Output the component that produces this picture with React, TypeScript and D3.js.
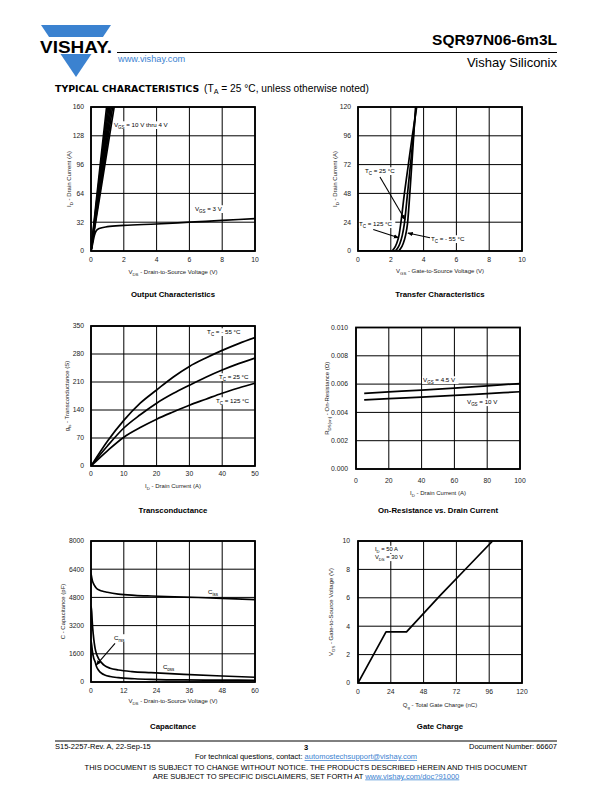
import React from 'react';
import * as d3 from 'd3';

const FONT = '"Liberation Sans", Arial, Helvetica, sans-serif';
const BLUE = '#3b82d0';
type P = [number, number];

// ---------- Output characteristics ----------
const outVgs10: P[] = [[0, 0], [0.3, 52], [0.6, 102], [1.0, 168]];
const outVgs9: P[] = [[0, 0], [0.3, 48], [0.6, 95], [1.1, 172]];
const outVgs8: P[] = [[0, 0], [0.3, 45], [0.6, 89], [1.2, 176]];
const outVgs7: P[] = [[0, 0], [0.3, 42], [0.6, 83], [1.2, 165]];
const outVgs6: P[] = [[0, 0], [0.3, 39], [0.6, 78], [1.3, 168]];
const outVgs5: P[] = [[0, 0], [0.3, 37], [0.6, 73], [1.4, 170]];
const outVgs4: P[] = [[0, 0], [0.3, 34], [0.6, 68], [1.5, 170]];
const outVgs3: P[] = [[0, 0], [0.1, 8], [0.2, 17], [0.3, 22], [0.5, 25], [1, 27], [2, 28.5], [4, 30], [6, 32], [8, 34], [10, 36]];
const outXTicks = [0, 2, 4, 6, 8, 10];
const outYTicks = [0, 32, 64, 96, 128, 160];

// ---------- Transfer characteristics ----------
const tr125: P[] = [[0, 0], [1.95, 0], [2.1, 0.5], [2.2, 2], [2.35, 6], [2.5, 13], [2.61, 23], [2.83, 48], [3.05, 70], [3.3, 95], [3.6, 122]];
const tr25: P[] = [[0, 0], [2.15, 0], [2.3, 0.5], [2.4, 2], [2.55, 6], [2.7, 13], [2.83, 23], [3.02, 48], [3.2, 72], [3.38, 97], [3.56, 122]];
const trM55: P[] = [[0, 0], [2.35, 0], [2.5, 0.5], [2.6, 2], [2.75, 6], [2.9, 13], [3.02, 23], [3.16, 48], [3.28, 72], [3.4, 97], [3.52, 122]];
const trXTicks = [0, 2, 4, 6, 8, 10];
const trYTicks = [0, 24, 48, 72, 96, 120];

// ---------- Transconductance ----------
const gfsM55: P[] = [[0, 0], [5, 62], [10, 114], [15, 157], [20, 190], [25, 222], [30, 249], [35, 270], [40, 289], [45, 306], [50, 321]];
const gfs25: P[] = [[0, 0], [5, 50], [10, 95], [15, 128], [20, 157], [25, 181], [30, 202], [35, 222], [40, 240], [45, 256], [50, 270]];
const gfs125: P[] = [[0, 0], [5, 38], [10, 72], [15, 96], [20, 117], [25, 135], [30, 152], [35, 167], [40, 182], [45, 195], [50, 207]];
const gfsXTicks = [0, 10, 20, 30, 40, 50];
const gfsYTicks = [0, 70, 140, 210, 280, 350];

// ---------- On-resistance ----------
const rdsVgs45: P[] = [[5, 0.00535], [20, 0.00545], [40, 0.00558], [60, 0.00572], [80, 0.00588], [100, 0.00604]];
const rdsVgs10: P[] = [[5, 0.00488], [20, 0.00497], [40, 0.00508], [60, 0.0052], [80, 0.00533], [100, 0.00546]];
const rdsXTicks = [0, 20, 40, 60, 80, 100];
const rdsYTicks = [0, 0.002, 0.004, 0.006, 0.008, 0.01];
const rdsYLabels = ['0.000', '0.002', '0.004', '0.006', '0.008', '0.010'];

// ---------- Capacitance ----------
const ciss: P[] = [[0, 6150], [0.5, 5750], [1, 5550], [1.5, 5420], [2, 5320], [3, 5220], [4, 5160], [6, 5090], [10, 4990], [16, 4920], [22, 4880], [34, 4820], [48, 4750], [60, 4670]];
const coss: P[] = [[0, 4300], [0.25, 3990], [0.5, 3300], [0.85, 2670], [1.2, 2200], [1.5, 1910], [2, 1600], [2.7, 1345], [4, 1070], [5, 925], [7, 780], [10, 680], [15, 590], [22, 530], [34, 435], [48, 340], [60, 270]];
const crss: P[] = [[0, 2350], [0.25, 2100], [0.5, 1750], [1, 1350], [1.5, 1150], [2, 880], [2.7, 680], [4, 480], [5, 400], [7, 310], [10, 245], [16, 185], [22, 150], [34, 115], [48, 105], [60, 100]];
const capXTicks = [0, 12, 24, 36, 48, 60];
const capYTicks = [0, 1600, 3200, 4800, 6400, 8000];

// ---------- Gate charge ----------
const gateQ: P[] = [[0, 0], [20.5, 3.6], [35.5, 3.6], [60, 6.15], [80, 8.15], [98.5, 10]];
const gateXTicks = [0, 24, 48, 72, 96, 120];
const gateYTicks = [0, 2, 4, 6, 8, 10];

// ---------- rich text with subscripts: "V_{GS} = 3 V" ----------
function Rich({ s, fs }: { s: string; fs: number }) {
  const parts = s.split(/(_\{[^}]*\})/).filter((t) => t.length > 0);
  const out: React.ReactNode[] = [];
  let shifted = false;
  parts.forEach((t, i) => {
    if (t.startsWith('_{')) {
      out.push(
        <tspan key={i} dy={fs * 0.32} fontSize={fs * 0.72}>
          {t.slice(2, -1)}
        </tspan>
      );
      shifted = true;
    } else {
      out.push(
        <tspan key={i} dy={shifted ? -fs * 0.32 : 0} fontSize={fs}>
          {t}
        </tspan>
      );
      shifted = false;
    }
  });
  return <>{out}</>;
}

function approxWidth(s: string, fs: number) {
  const parts = s.split(/(_\{[^}]*\})/);
  let w = 0;
  parts.forEach((t) => {
    if (t.startsWith('_{')) w += (t.length - 3) * fs * 0.72 * 0.55;
    else w += t.length * fs * 0.53;
  });
  return w;
}

type Note = { x: number; y: number; text: string };
type Arrow = { x1: number; y1: number; x2: number; y2: number };

interface ChartProps {
  id: string;
  box: { l: number; t: number; r: number; b: number };
  xDomain: [number, number];
  yDomain: [number, number];
  xTicks: number[];
  yTicks: number[];
  yTickLabels?: string[];
  series: P[][];
  linear?: boolean;
  xLabel: string;
  yLabel: string;
  title: string;
  xTickY: number;
  xLabelY: number;
  titleY: number;
  yTickX: number;
  yLabelX: number;
  notes: Note[];
  noteFs?: number;
  arrows?: Arrow[];
}

function Chart(p: ChartProps) {
  const { box } = p;
  const x = d3.scaleLinear().domain(p.xDomain).range([box.l, box.r]);
  const y = d3.scaleLinear().domain(p.yDomain).range([box.b, box.t]);
  const line = d3
    .line<P>()
    .x((d) => x(d[0]))
    .y((d) => y(d[1]))
    .curve(p.linear ? d3.curveLinear : d3.curveMonotoneX);
  const clipId = `clip-${p.id}`;
  const cx = (box.l + box.r) / 2;
  const cy = (box.t + box.b) / 2;
  const nfs = p.noteFs || 6.2;
  const tfs = 6.8;
  return (
    <g fontFamily={FONT}>
      <defs>
        <clipPath id={clipId}>
          <rect x={box.l} y={box.t} width={box.r - box.l} height={box.b - box.t} />
        </clipPath>
      </defs>
      {p.xTicks.map((t) => (
        <line key={'gx' + t} x1={x(t)} x2={x(t)} y1={box.t} y2={box.b} stroke="#000" strokeWidth={1} />
      ))}
      {p.yTicks.map((t) => (
        <line key={'gy' + t} x1={box.l} x2={box.r} y1={y(t)} y2={y(t)} stroke="#000" strokeWidth={1} />
      ))}
      {p.notes.map((n, i) => (
        <rect
          key={'nb' + i}
          x={x(n.x) - 1}
          y={y(n.y) - nfs * 0.6}
          width={approxWidth(n.text, nfs) + 2}
          height={nfs * 1.25}
          fill="#fff"
        />
      ))}
      <g clipPath={`url(#${clipId})`}>
        {p.series.map((s, i) => (
          <path key={'s' + i} d={line(s) || ''} fill="none" stroke="#000" strokeWidth={1.7} strokeLinejoin="round" />
        ))}
      </g>
      <rect x={box.l} y={box.t} width={box.r - box.l} height={box.b - box.t} fill="none" stroke="#000" strokeWidth={1.8} />
      {p.xTicks.map((t) => (
        <text key={'tx' + t} x={x(t)} y={p.xTickY + tfs * 0.35} fontSize={tfs} textAnchor="middle" fill="#222">
          {String(t)}
        </text>
      ))}
      {p.yTicks.map((t, i) => (
        <text key={'ty' + t} x={p.yTickX} y={y(t) + tfs * 0.35} fontSize={tfs} textAnchor="end" fill="#222">
          {p.yTickLabels ? p.yTickLabels[i] : String(t)}
        </text>
      ))}
      <text x={cx} y={p.xLabelY + 2} fontSize={6} textAnchor="middle" fill="#222">
        <Rich s={p.xLabel} fs={6} />
      </text>
      <text x={0} y={0} fontSize={6} textAnchor="middle" fill="#222" transform={`translate(${p.yLabelX + 2},${cy}) rotate(-90)`}>
        <Rich s={p.yLabel} fs={6} />
      </text>
      <text x={cx} y={p.titleY + 2.7} fontSize={7.8} fontWeight="bold" textAnchor="middle" fill="#000">
        {p.title}
      </text>
      {(p.arrows || []).map((a, i) => (
        <line
          key={'ar' + i}
          x1={x(a.x1)}
          y1={y(a.y1)}
          x2={x(a.x2)}
          y2={y(a.y2)}
          stroke="#000"
          strokeWidth={1.1}
          markerEnd="url(#arrowhead)"
        />
      ))}
      {p.notes.map((n, i) => (
        <text key={'nt' + i} x={x(n.x)} y={y(n.y) + nfs * 0.35} fontSize={nfs} fill="#000">
          <Rich s={n.text} fs={nfs} />
        </text>
      ))}
    </g>
  );
}

export default function App() {
  return (
    <svg
      width={612}
      height={792}
      viewBox="0 0 612 792"
      style={{ position: 'absolute', left: 0, top: 0, background: '#fff' }}
      fontFamily={FONT}
    >
      <defs>
        <marker id="arrowhead" viewBox="0 0 10 10" refX="9" refY="5" markerWidth="5" markerHeight="5" orient="auto">
          <path d="M0,1 L10,5 L0,9 z" fill="#000" />
        </marker>
      </defs>
      <rect x={0} y={0} width={612} height={792} fill="#fff" />

      {/* Logo */}
      <polygon points="41,25 111,25 76,77" fill={BLUE} />
      <rect x={37} y={37} width={78} height={17} fill="#fff" />
      <text x={40} y={52.5} fontSize={17} fontWeight="bold" textLength={72} lengthAdjust="spacingAndGlyphs" fill="#000">
        VISHAY.
      </text>

      {/* Header */}
      <text x={557} y={44.5} fontSize={15.5} fontWeight="bold" textAnchor="end" fill="#000">
        SQR97N06-6m3L
      </text>
      <line x1={117} x2={557} y1={52.5} y2={52.5} stroke="#000" strokeWidth={1} />
      <text x={118} y={61.5} fontSize={9.2} fill={BLUE}>
        www.vishay.com
      </text>
      <text x={557} y={67} fontSize={13} textAnchor="end" fill="#000">
        Vishay Siliconix
      </text>
      <text x={55} y={91.5} fontSize={9.4} fontWeight="bold" fontFamily='"DejaVu Sans", sans-serif' fill="#000">
        TYPICAL CHARACTERISTICS
      </text>
      <text x={204} y={91.5} fontSize={10.2} fill="#000">
        <tspan>(T</tspan>
        <tspan fontSize={7.2} dy={2.5}>A</tspan>
        <tspan dy={-2.5}> = 25 °C, unless otherwise noted)</tspan>
      </text>

      <Chart
        id="out"
        box={{ l: 91, t: 107, r: 255, b: 251 }}
        xDomain={[0, 10]}
        yDomain={[0, 160]}
        xTicks={outXTicks}
        yTicks={outYTicks}
        series={[outVgs10, outVgs9, outVgs8, outVgs7, outVgs6, outVgs5, outVgs4, outVgs3]}
        xLabel="V_{DS} - Drain-to-Source Voltage (V)"
        yLabel="I_{D} - Drain Current (A)"
        title="Output Characteristics"
        xTickY={260}
        xLabelY={272}
        titleY={294}
        yTickX={84}
        yLabelX={69}
        notes={[
          { x: 1.4, y: 140, text: 'V_{GS} = 10 V thru 4 V' },
          { x: 6.34, y: 46.7, text: 'V_{GS} = 3 V' },
        ]}
      />

      <Chart
        id="tr"
        box={{ l: 358, t: 107, r: 522, b: 251 }}
        xDomain={[0, 10]}
        yDomain={[0, 120]}
        xTicks={trXTicks}
        yTicks={trYTicks}
        series={[tr125, tr25, trM55]}
        xLabel="V_{GS} - Gate-to-Source Voltage (V)"
        yLabel="I_{D} - Drain Current (A)"
        title="Transfer Characteristics"
        xTickY={260}
        xLabelY={271}
        titleY={294}
        yTickX={351}
        yLabelX={335}
        notes={[
          { x: 0.43, y: 66.7, text: 'T_{C} = 25 °C' },
          { x: 0.06, y: 22.5, text: 'T_{C} = 125 °C' },
          { x: 4.45, y: 10, text: 'T_{C} = - 55 °C' },
        ]}
        arrows={[
          { x1: 1.34, y1: 61.7, x2: 2.87, y2: 26 },
          { x1: 0.93, y1: 18, x2: 2.48, y2: 11 },
          { x1: 4.39, y1: 11, x2: 3.04, y2: 15 },
        ]}
      />

      <Chart
        id="gfs"
        box={{ l: 91, t: 326, r: 255, b: 466 }}
        xDomain={[0, 50]}
        yDomain={[0, 350]}
        xTicks={gfsXTicks}
        yTicks={gfsYTicks}
        series={[gfsM55, gfs25, gfs125]}
        xLabel="I_{D} - Drain Current (A)"
        yLabel="g_{fs} - Transconductance (S)"
        title="Transconductance"
        xTickY={474}
        xLabelY={486}
        titleY={510}
        yTickX={84}
        yLabelX={67}
        notes={[
          { x: 35.4, y: 335, text: 'T_{C} = - 55 °C' },
          { x: 39, y: 222.5, text: 'T_{C} = 25 °C' },
          { x: 38.1, y: 162.5, text: 'T_{C} = 125 °C' },
        ]}
      />

      <Chart
        id="rds"
        box={{ l: 356, t: 327.5, r: 520, b: 469 }}
        xDomain={[0, 100]}
        yDomain={[0, 0.01]}
        xTicks={rdsXTicks}
        yTicks={rdsYTicks}
        yTickLabels={rdsYLabels}
        series={[rdsVgs45, rdsVgs10]}
        xLabel="I_{D} - Drain Current (A)"
        yLabel="R_{DS(on)} - On-Resistance (Ω)"
        title="On-Resistance vs. Drain Current"
        xTickY={481}
        xLabelY={493}
        titleY={510}
        yTickX={348}
        yLabelX={327}
        notes={[
          { x: 40.9, y: 0.00629, text: 'V_{GS} = 4.5 V' },
          { x: 67.7, y: 0.00473, text: 'V_{GS} = 10 V' },
        ]}
      />

      <Chart
        id="cap"
        box={{ l: 91, t: 541, r: 255, b: 682 }}
        xDomain={[0, 60]}
        yDomain={[0, 8000]}
        xTicks={capXTicks}
        yTicks={capYTicks}
        series={[ciss, coss, crss]}
        xLabel="V_{DS} - Drain-to-Source Voltage (V)"
        yLabel="C - Capacitance (pF)"
        title="Capacitance"
        xTickY={691}
        xLabelY={701}
        titleY={726}
        yTickX={84}
        yLabelX={63}
        notes={[
          { x: 42.8, y: 5125, text: 'C_{iss}' },
          { x: 26.3, y: 870, text: 'C_{oss}' },
          { x: 8.4, y: 2500, text: 'C_{rss}' },
        ]}
        arrows={[{ x1: 8.8, y1: 2195, x2: 1.9, y2: 960 }]}
      />

      <Chart
        id="qg"
        box={{ l: 358, t: 541, r: 522, b: 683 }}
        xDomain={[0, 120]}
        yDomain={[0, 10]}
        xTicks={gateXTicks}
        yTicks={gateYTicks}
        series={[gateQ]}
        linear
        xLabel="Q_{g} - Total Gate Charge (nC)"
        yLabel="V_{GS} - Gate-to-Source Voltage (V)"
        title="Gate Charge"
        xTickY={692}
        xLabelY={705}
        titleY={726}
        yTickX={350}
        yLabelX={331}
        noteFs={5.8}
        notes={[
          { x: 12.4, y: 9.42, text: 'I_{D} = 50 A' },
          { x: 12.4, y: 8.85, text: 'V_{DS} = 30 V' },
        ]}
      />

      {/* Footer */}
      <line x1={55} x2={557} y1={741} y2={741} stroke="#000" strokeWidth={1} />
      <text x={55} y={749} fontSize={7.5} fill="#000">S15-2257-Rev. A, 22-Sep-15</text>
      <text x={306} y={749.5} fontSize={7.5} fontWeight="bold" textAnchor="middle" fill="#000">3</text>
      <text x={557} y={749} fontSize={7.5} textAnchor="end" fill="#000">Document Number: 66607</text>
      <text x={306} y={759} fontSize={7.5} textAnchor="middle" fill="#000">
        <tspan>For technical questions, contact: </tspan>
        <tspan fill={BLUE} textDecoration="underline">automostechsupport@vishay.com</tspan>
      </text>
      <text x={306} y={769.5} fontSize={7.5} textAnchor="middle" fill="#000">
        THIS DOCUMENT IS SUBJECT TO CHANGE WITHOUT NOTICE. THE PRODUCTS DESCRIBED HEREIN AND THIS DOCUMENT
      </text>
      <text x={306} y={778.5} fontSize={7.5} textAnchor="middle" fill="#000">
        <tspan>ARE SUBJECT TO SPECIFIC DISCLAIMERS, SET FORTH AT </tspan>
        <tspan fill={BLUE} textDecoration="underline">www.vishay.com/doc?91000</tspan>
      </text>
    </svg>
  );
}
